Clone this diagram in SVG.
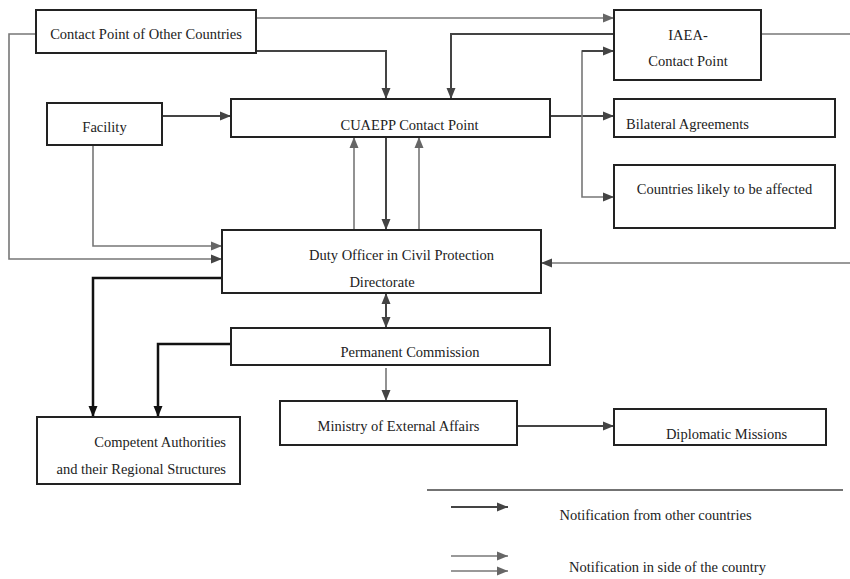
<svg xmlns="http://www.w3.org/2000/svg" width="850" height="579" viewBox="0 0 850 579">
<style>
.box{fill:#fff;stroke:#222;stroke-width:2}
.t text{font-size:14.5px;fill:#222;text-anchor:middle}
.c{fill:none;stroke-linejoin:miter}
.dk{stroke:#444;stroke-width:2}
.gr{stroke:#777;stroke-width:1.6}
.bk{stroke:#111;stroke-width:2.5}
</style>
<defs>
<marker id="ad" markerUnits="userSpaceOnUse" markerWidth="12" markerHeight="10" refX="11" refY="5" orient="auto-start-reverse"><path d="M0,0.5 L11,5 L0,9.5 z" fill="#444"/></marker>
<marker id="ag" markerUnits="userSpaceOnUse" markerWidth="12" markerHeight="10" refX="11" refY="5" orient="auto-start-reverse"><path d="M0,0.5 L11,5 L0,9.5 z" fill="#666"/></marker>
<marker id="ab" markerUnits="userSpaceOnUse" markerWidth="12" markerHeight="10" refX="11" refY="5" orient="auto-start-reverse"><path d="M0,0.5 L11,5 L0,9.5 z" fill="#111"/></marker>
</defs>
<rect width="850" height="579" fill="#fff"/>
<g id="connectors">
<path class="c gr" d="M256,18 H614" marker-end="url(#ag)"/>
<path class="c dk" d="M256,51 H386 V99" marker-end="url(#ad)"/>
<path class="c gr" d="M36,34 H9 V259 H222" marker-end="url(#ad)"/>
<path class="c dk" d="M162,116 H231" marker-end="url(#ad)"/>
<path class="c gr" d="M93,145 V246 H222" marker-end="url(#ag)"/>
<path class="c gr" d="M354,230 V137" marker-end="url(#ag)"/>
<path class="c dk" d="M386,137 V230" marker-end="url(#ad)"/>
<path class="c gr" d="M419,230 V137" marker-end="url(#ag)"/>
<path class="c dk" d="M614,34 H451 V99" marker-end="url(#ad)"/>
<path class="c gr" d="M761,34 H850"/>
<path class="c dk" d="M550,116 H614" marker-end="url(#ad)"/>
<path class="c gr" d="M614,51 H582 V197 H614" marker-end="url(#ad)"/>
<path class="c dk" d="M582,51 H614" marker-end="url(#ad)"/>
<path class="c gr" d="M850,263 H541" marker-end="url(#ad)"/>
<path class="c dk" d="M386,293 V328" marker-start="url(#ad)" marker-end="url(#ad)"/>
<path class="c bk" d="M222,278 H93 V417" marker-end="url(#ab)"/>
<path class="c bk" d="M231,344 H158 V417" marker-end="url(#ab)"/>
<path class="c gr" d="M386,368 V401" marker-end="url(#ad)"/>
<path class="c dk" d="M517,426 H614" marker-end="url(#ad)"/>
</g>
<g class="t" font-family="'Liberation Serif', 'Times New Roman', 'DejaVu Serif', serif">
<g id="contact-other"><rect class="box" x="36" y="10" width="220" height="43"/><text x="146" y="38.5">Contact Point of Other Countries</text></g>
<g id="facility"><rect class="box" x="47" y="103" width="115" height="42"/><text x="104.5" y="132">Facility</text></g>
<g id="cuaepp"><rect class="box" x="231" y="99" width="319" height="38"/><text x="409.5" y="129.5">CUAEPP Contact Point</text></g>
<g id="iaea"><rect class="box" x="614" y="10" width="147" height="70"/><text x="688" y="39.5">IAEA-</text><text x="688" y="66">Contact Point</text></g>
<g id="bilateral"><rect class="box" x="614" y="99" width="221" height="38"/><text x="626" y="128.5" style="text-anchor:start">Bilateral Agreements</text></g>
<g id="countries"><rect class="box" x="614" y="165" width="221" height="63"/><text x="724.5" y="193.5">Countries likely to be affected</text></g>
<g id="duty"><rect class="box" x="222" y="230" width="319" height="63"/><text x="401.5" y="259.5">Duty Officer in Civil Protection</text><text x="382" y="286.5">Directorate</text></g>
<g id="permanent"><rect class="box" x="231" y="328" width="319" height="37"/><text x="410" y="356.5">Permanent Commission</text></g>
<g id="ministry"><rect class="box" x="280" y="401" width="237" height="44"/><text x="398.5" y="430.5">Ministry of External Affairs</text></g>
<g id="diplomatic"><rect class="box" x="614" y="409" width="212" height="36"/><text x="726.5" y="438.5">Diplomatic Missions</text></g>
<g id="competent"><rect class="box" x="37" y="417" width="203" height="67"/><text x="226" y="446.5" style="text-anchor:end">Competent Authorities</text><text x="226" y="473.5" style="text-anchor:end">and their Regional Structures</text></g>
<g id="legend">
<path class="c" stroke="#444" stroke-width="1.5" d="M427,490 H843"/>
<path class="c dk" d="M451,507 H508" marker-end="url(#ad)"/>
<text x="655.5" y="519.5">Notification from other countries</text>
<path class="c gr" d="M451,556 H508" marker-end="url(#ag)"/>
<path class="c gr" d="M451,571 H508" marker-end="url(#ag)"/>
<text x="667.5" y="571.5">Notification in side of the country</text>
</g>
</g>
</svg>
